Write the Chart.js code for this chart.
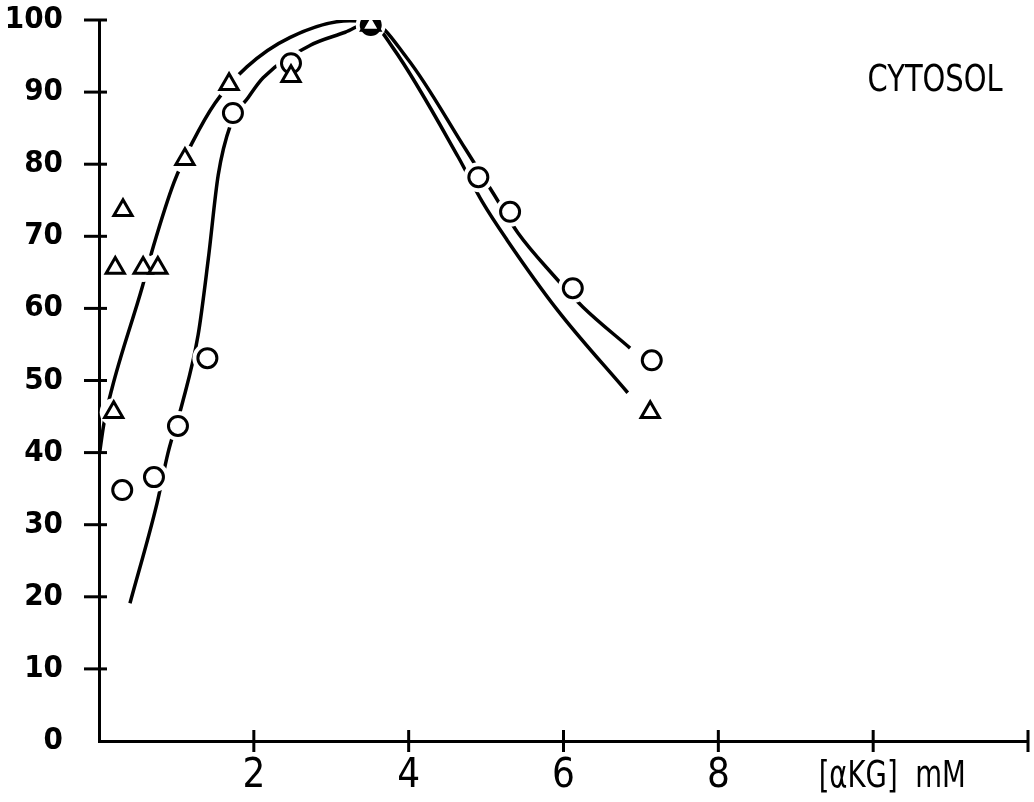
<!DOCTYPE html>
<html>
<head>
<meta charset="utf-8">
<script src="https://cdn.jsdelivr.net/npm/chart.js@4.4.1/dist/chart.umd.min.js"></script>
<style>
  html, body { margin: 0; padding: 0; background: #fff; }
  #wrap { width: 1034px; height: 802px; }
</style>
</head>
<body>
<div id="wrap"><canvas id="cytosolChart" width="1034" height="802"></canvas></div>
<script>
// measured points (triangles)
var triX = [0.19, 0.21, 0.31, 0.57, 0.76, 1.11, 1.68, 2.48, 3.51, 7.12];
var triY = [45.6, 65.6, 73.6, 65.6, 65.6, 80.7, 91.1, 92.2, 99.3, 45.6];

// measured points (circles)
var circX = [0.30, 0.71, 1.02, 1.40, 1.73, 2.48, 3.51, 4.90, 5.31, 6.12, 7.14];
var circY = [34.8, 36.6, 43.7, 53.1, 87.1, 94.0, 99.3, 78.2, 73.4, 62.8, 52.8];

// hand drawn curves
var triCurveX = [0.01, 0.06, 0.17, 0.56, 0.70, 0.97, 1.21, 1.50, 1.91, 2.47, 3.24, 3.51, 3.80, 4.64, 4.95, 5.27, 5.92, 6.83];
var triCurveY = [40.1, 43.8, 49.0, 63.0, 68.5, 77.5, 83.1, 88.5, 93.5, 97.6, 99.9, 99.7, 96.1, 81.0, 74.8, 69.5, 59.8, 48.3];
var circCurveX = [0.40, 0.75, 0.89, 1.07, 1.28, 1.41, 1.54, 1.70, 1.93, 2.12, 2.73, 3.18, 3.51, 3.98, 4.74, 5.09, 5.41, 5.87, 6.25, 6.86];
var circCurveY = [19.1, 33.0, 39.9, 46.6, 56.3, 66.7, 78.5, 85.5, 89.3, 92.0, 96.5, 98.3, 99.7, 94.7, 82.0, 76.0, 70.5, 64.6, 60.2, 54.5];

var xTickLabels = ["2", "4", "6", "8"];
var xAxisLabel = "[\u03B1KG]  mM";
var panelLabel = "CYTOSOL";

function pts(xs, ys) {
    return xs.map(function (x, i) { return { x: x, y: ys[i] }; });
}

var FONT = "'DejaVu Sans Condensed', 'Liberation Sans Narrow', sans-serif";
var NARROW = "'Liberation Sans Narrow', 'DejaVu Sans Condensed', sans-serif";

// tick marks crossing the axes + free text
var extras = {
    id: "extras",
    afterDraw: function (chart) {
        var ctx = chart.ctx;
        var xs = chart.scales.x, ys = chart.scales.y;
        var left = chart.chartArea.left, bottom = chart.chartArea.bottom;
        ctx.save();
        ctx.strokeStyle = "#000";
        ctx.lineWidth = 3;
        ys.ticks.forEach(function (t) {
            if (t.value === 0) return;
            var py = ys.getPixelForValue(t.value);
            ctx.beginPath();
            ctx.moveTo(left - 15, py);
            ctx.lineTo(left + 8, py);
            ctx.stroke();
        });
        xs.ticks.forEach(function (t) {
            if (t.value === 0) return;
            var px = xs.getPixelForValue(t.value);
            ctx.beginPath();
            ctx.moveTo(px, bottom - 11);
            ctx.lineTo(px, bottom + 11);
            ctx.stroke();
        });

        ctx.fillStyle = "#000";
        ctx.textAlign = "center";
        ctx.textBaseline = "middle";

        ctx.save();
        ctx.translate(xs.getPixelForValue(10) + 19, 777);
        ctx.scale(0.9, 1.12);
        ctx.font = "34px " + FONT;
        ctx.fillText(xAxisLabel, 0, 0);
        ctx.restore();

        ctx.save();
        ctx.translate(xs.getPixelForValue(10.8), ys.getPixelForValue(91.5));
        ctx.scale(0.87, 1);
        ctx.font = "37px " + FONT;
        ctx.fillText(panelLabel, 0, 0);
        ctx.restore();

        ctx.restore();
    }
};

new Chart("cytosolChart", {
    type: "scatter",
    data: {
        datasets: [
            {
                data: pts(triCurveX, triCurveY),
                showLine: true,
                cubicInterpolationMode: "monotone",
                borderColor: "#000",
                borderWidth: 3.5,
                pointRadius: 0,
                order: 5
            },
            {
                data: pts(circCurveX, circCurveY),
                showLine: true,
                cubicInterpolationMode: "monotone",
                borderColor: "#000",
                borderWidth: 3.5,
                pointRadius: 0,
                order: 5
            },
            // white halos so the curves break around the symbols
            {
                data: pts(circX, circY),
                pointStyle: "circle",
                pointRadius: 15,
                pointBorderWidth: 0,
                pointBackgroundColor: "#fff",
                order: 4
            },
            {
                data: pts(triX, triY),
                pointStyle: "circle",
                pointRadius: 14,
                pointBorderWidth: 0,
                pointBackgroundColor: "#fff",
                order: 4
            },
            {
                data: pts(circX, circY),
                pointStyle: "circle",
                pointRadius: 9.5,
                pointBorderWidth: 3,
                pointBorderColor: "#000",
                pointBackgroundColor: function (c) {
                    return c.raw && c.raw.y > 99 ? "#000" : "#fff";
                },
                order: 2
            },
            {
                data: pts(triX, triY),
                pointStyle: "triangle",
                pointRadius: 10.5,
                pointBorderWidth: 3,
                pointBorderColor: "#000",
                pointBackgroundColor: "#fff",
                order: 1
            }
        ]
    },
    options: {
        responsive: false,
        animation: false,
        layout: { autoPadding: false, padding: { top: 20, right: 6, left: 0, bottom: 0 } },
        plugins: {
            legend: { display: false },
            tooltip: { enabled: false }
        },
        scales: {
            x: {
                type: "linear",
                min: 0,
                max: 12,
                z: 1,
                grid: { display: false, drawTicks: false },
                border: { display: true, color: "#000", width: 3 },
                ticks: {
                    stepSize: 2,
                    padding: 12,
                    color: "#000",
                    font: { family: NARROW, size: 40 },
                    callback: function (v) {
                        var i = xTickLabels.indexOf(String(v));
                        return i >= 0 ? xTickLabels[i] : "";
                    }
                },
                afterFit: function (s) {
                    s.height = 61;
                    s.paddingLeft = 0;
                    s.paddingRight = 0;
                }
            },
            y: {
                min: 0,
                max: 100,
                z: 1,
                grid: { display: false, drawTicks: false },
                border: { display: true, color: "#000", width: 3 },
                ticks: {
                    stepSize: 10,
                    padding: 36,
                    color: "#000",
                    font: { family: FONT, size: 31, weight: "bold" }
                },
                afterFit: function (s) {
                    s.width = 99;
                    s.paddingTop = 0;
                    s.paddingBottom = 0;
                }
            }
        }
    },
    plugins: [extras]
});
</script>
</body>
</html>
